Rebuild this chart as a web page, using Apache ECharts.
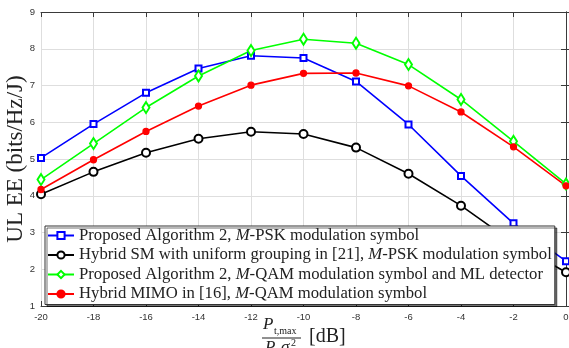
<!DOCTYPE html>
<html>
<head>
<meta charset="utf-8">
<script src="https://cdn.jsdelivr.net/npm/echarts@6/dist/echarts.min.js"></script>
<style>html,body{margin:0;padding:0;background:#fff}#c{width:569px;height:348px}</style>
</head>
<body>
<div id="c"></div>
<script>
const xValues = [-20, -18, -16, -14, -12, -10, -8, -6, -4, -2, 0];
const blueVals  = [5.03, 5.95, 6.80, 7.46, 7.81, 7.75, 7.11, 5.94, 4.54, 3.25, 2.22];
const blackVals = [4.04, 4.65, 5.17, 5.55, 5.74, 5.68, 5.31, 4.60, 3.73, 2.72, 1.92];
const greenVals = [4.44, 5.42, 6.40, 7.26, 7.95, 8.26, 8.15, 7.57, 6.62, 5.48, 4.32];
const redVals   = [4.17, 4.98, 5.75, 6.44, 7.01, 7.33, 7.34, 6.99, 6.28, 5.33, 4.27];
const names = [
  'Proposed Algorithm 2, M-PSK modulation symbol',
  'Hybrid SM with uniform grouping in [21], M-PSK modulation symbol',
  'Proposed Algorithm 2, M-QAM modulation symbol and ML detector',
  'Hybrid MIMO in [16], M-QAM modulation symbol'
];
const yLabel = 'UL EE (bits/Hz/J)';

const pairs = v => xValues.map((x, i) => [x, v[i]]);
const serif = '"Liberation Serif", "DejaVu Serif", serif';
const sans = '"Liberation Sans", Arial, sans-serif';

function mk(name, vals, color, symbol, size) {
  return {
    name, type: 'line', data: pairs(vals), symbol, symbolSize: size,
    lineStyle: { color, width: 1.6 },
    itemStyle: { color, borderColor: color, borderWidth: 1.3 },
    emphasis: { disabled: true }, animation: false
  };
}

const chart = echarts.init(document.getElementById('c'));
const axisCol = '#3a3a3a';
chart.setOption({
  animation: false,
  grid: { left: 41, right: 3, top: 12, bottom: 42, containLabel: false, outerBoundsMode: 'none' },
  xAxis: [{
    type: 'value', min: -20, max: 0, interval: 2,
    axisLine: { show: true, lineStyle: { color: axisCol, width: 1 } },
    axisTick: { show: true, inside: true, length: 5, lineStyle: { color: axisCol } },
    axisLabel: { color: '#333', fontSize: 9.5, fontFamily: sans, margin: 6 },
    splitLine: { show: true, lineStyle: { color: '#dedede', width: 1 } }
  }, {
    type: 'value', position: 'top', min: -20, max: 0, interval: 2,
    axisLine: { show: true, onZero: false, lineStyle: { color: axisCol, width: 1 } },
    axisTick: { show: true, inside: true, length: 5, lineStyle: { color: axisCol } },
    axisLabel: { show: false }, splitLine: { show: false }
  }],
  yAxis: [{
    type: 'value', min: 1, max: 9, interval: 1,
    name: yLabel, nameLocation: 'middle', nameGap: 14, nameMoveOverlap: false,
    nameTextStyle: { fontFamily: serif, fontSize: 23, color: '#222' },
    axisLine: { show: true, lineStyle: { color: axisCol, width: 1 } },
    axisTick: { show: true, inside: true, length: 5, lineStyle: { color: axisCol } },
    axisLabel: { color: '#333', fontSize: 9.5, fontFamily: sans, margin: 6 },
    splitLine: { show: true, lineStyle: { color: '#dedede', width: 1 } }
  }, {
    type: 'value', position: 'right', min: 1, max: 9, interval: 1,
    axisLine: { show: true, onZero: false, lineStyle: { color: axisCol, width: 1 } },
    axisTick: { show: true, inside: true, length: 5, lineStyle: { color: axisCol } },
    axisLabel: { show: false }, splitLine: { show: false }
  }],
  legend: {
    orient: 'vertical', left: 45, top: 226,
    backgroundColor: '#fff', borderColor: '#333', borderWidth: 1,
    shadowColor: 'rgba(0,0,0,0.55)', shadowOffsetX: 2, shadowOffsetY: 2, shadowBlur: 0,
    padding: [1, 3, 2, 2], itemGap: 2.5, itemWidth: 26, itemHeight: 9,
    data: names,
    formatter: n => {
      const i = n.indexOf('M-');
      return '{n|' + n.slice(0, i) + '}{i|M}{n|' + n.slice(i + 1) + '}';
    },
    textStyle: {
      fontFamily: serif, fontSize: 16.7, color: '#222', padding: 0,
      rich: {
        n: { fontFamily: serif, fontSize: 16.7, color: '#222', lineHeight: 16 },
        i: { fontFamily: serif, fontSize: 16.7, color: '#222', fontStyle: 'italic', lineHeight: 16 }
      }
    }
  },
  graphic: [
    { type: 'text', left: 263, top: 316, style: { text: 'P', font: 'italic 17px ' + serif, fill: '#222' } },
    { type: 'text', left: 274, top: 326, style: { text: 't,max', font: '10px ' + serif, fill: '#222' } },
    { type: 'line', shape: { x1: 262, y1: 338, x2: 301, y2: 338 }, style: { stroke: '#222', lineWidth: 1 } },
    { type: 'text', left: 265, top: 339, style: { text: 'P', font: 'italic 17px ' + serif, fill: '#222' } },
    { type: 'text', left: 276, top: 349, style: { text: 't', font: '10px ' + serif, fill: '#222' } },
    { type: 'text', left: 281, top: 339, style: { text: 'σ', font: 'italic 17px ' + serif, fill: '#222' } },
    { type: 'text', left: 291, top: 338, style: { text: '2', font: '10px ' + serif, fill: '#222' } },
    { type: 'text', left: 309, top: 327, style: { text: '[dB]', font: '20px ' + serif, fill: '#222' } }
  ],
  series: [
    mk(names[0], blueVals, '#0000ff', 'emptyRect', 6),
    mk(names[1], blackVals, '#000000', 'emptyCircle', 8),
    mk(names[2], greenVals, '#00ff00', 'emptyDiamond', [7, 11]),
    mk(names[3], redVals, '#ff0000', 'circle', 6)
  ]
});
</script>
</body>
</html>
